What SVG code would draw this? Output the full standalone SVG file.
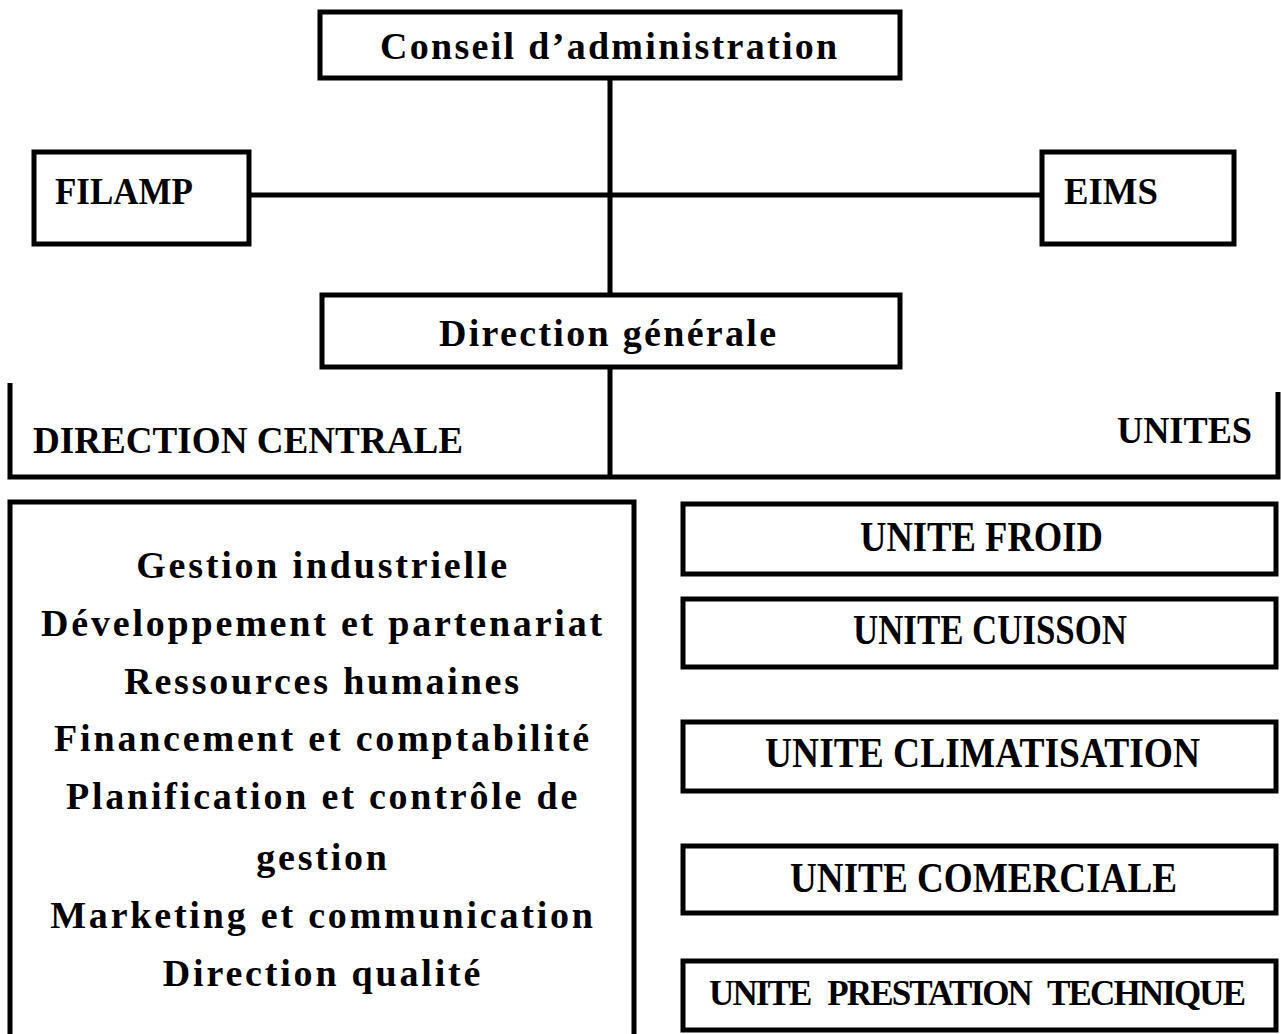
<svg xmlns="http://www.w3.org/2000/svg" width="1281" height="1034" viewBox="0 0 1281 1034">
  <style>
    .box { fill: #fff; stroke: #000; stroke-width: 5; }
    .line { fill: none; stroke: #000; stroke-width: 5; }
    .t { font-family: "Liberation Serif", "Times New Roman", serif; font-weight: bold; fill: #000; }
    .sp { font-size: 38px; letter-spacing: 2.3px; }
    .list { font-size: 38px; letter-spacing: 2.8px; }
    .cap { font-size: 38px; }
    .unit { font-size: 42px; }
  </style>
  <rect width="1281" height="1034" fill="#fff"/>

  <!-- connectors -->
  <g id="connectors">
    <path class="line" d="M610,79 V295"/>
    <path class="line" d="M250,195 H1042"/>
    <path class="line" d="M610,367 V477"/>
    <path class="line" d="M10,383 V477 H1278 V392"/>
  </g>

  <g id="conseil">
    <rect class="box" x="320" y="12" width="580" height="66"/>
    <text class="t sp" x="380" y="59">Conseil d’administration</text>
  </g>

  <g id="filamp">
    <rect class="box" x="34" y="152" width="215" height="92"/>
    <text class="t cap" x="55" y="204" textLength="138" lengthAdjust="spacingAndGlyphs">FILAMP</text>
  </g>

  <g id="eims">
    <rect class="box" x="1042" y="152" width="192" height="92"/>
    <text class="t cap" x="1064" y="204" textLength="94" lengthAdjust="spacingAndGlyphs">EIMS</text>
  </g>

  <g id="direction-generale">
    <rect class="box" x="322" y="295" width="578" height="72"/>
    <text class="t sp" x="439" y="346">Direction générale</text>
  </g>

  <g id="direction-centrale-label">
    <text class="t cap" x="33" y="453" textLength="430" lengthAdjust="spacingAndGlyphs">DIRECTION CENTRALE</text>
  </g>

  <g id="unites-label">
    <text class="t cap" x="1117" y="443" textLength="135" lengthAdjust="spacingAndGlyphs">UNITES</text>
  </g>

  <g id="direction-centrale">
    <path class="line" d="M10,1040 V502 H634 V1040"/>
    <g class="t list" text-anchor="middle">
      <text x="323" y="578">Gestion industrielle</text>
      <text x="323" y="636">Développement et partenariat</text>
      <text x="323" y="694">Ressources humaines</text>
      <text x="323" y="751">Financement et comptabilité</text>
      <text x="323" y="809">Planification et contrôle de</text>
      <text x="323" y="870">gestion</text>
      <text x="323" y="928">Marketing et communication</text>
      <text x="323" y="986">Direction qualité</text>
    </g>
  </g>

  <g id="unite-froid">
    <rect class="box" x="683" y="504" width="593" height="70"/>
    <text class="t unit" x="860" y="551" textLength="243" lengthAdjust="spacingAndGlyphs">UNITE FROID</text>
  </g>

  <g id="unite-cuisson">
    <rect class="box" x="683" y="599" width="593" height="68"/>
    <text class="t unit" x="853" y="644" textLength="274" lengthAdjust="spacingAndGlyphs">UNITE CUISSON</text>
  </g>

  <g id="unite-climatisation">
    <rect class="box" x="683" y="722" width="593" height="69"/>
    <text class="t unit" x="765" y="767" textLength="435" lengthAdjust="spacingAndGlyphs">UNITE CLIMATISATION</text>
  </g>

  <g id="unite-comerciale">
    <rect class="box" x="683" y="846" width="593" height="67"/>
    <text class="t unit" x="790" y="892" textLength="387" lengthAdjust="spacingAndGlyphs">UNITE COMERCIALE</text>
  </g>

  <g id="unite-prestation-technique">
    <rect class="box" x="683" y="961" width="593" height="69"/>
    <text class="t" font-size="35" x="709" y="1005" textLength="537" lengthAdjust="spacing" word-spacing="10">UNITE PRESTATION TECHNIQUE</text>
  </g>
</svg>
